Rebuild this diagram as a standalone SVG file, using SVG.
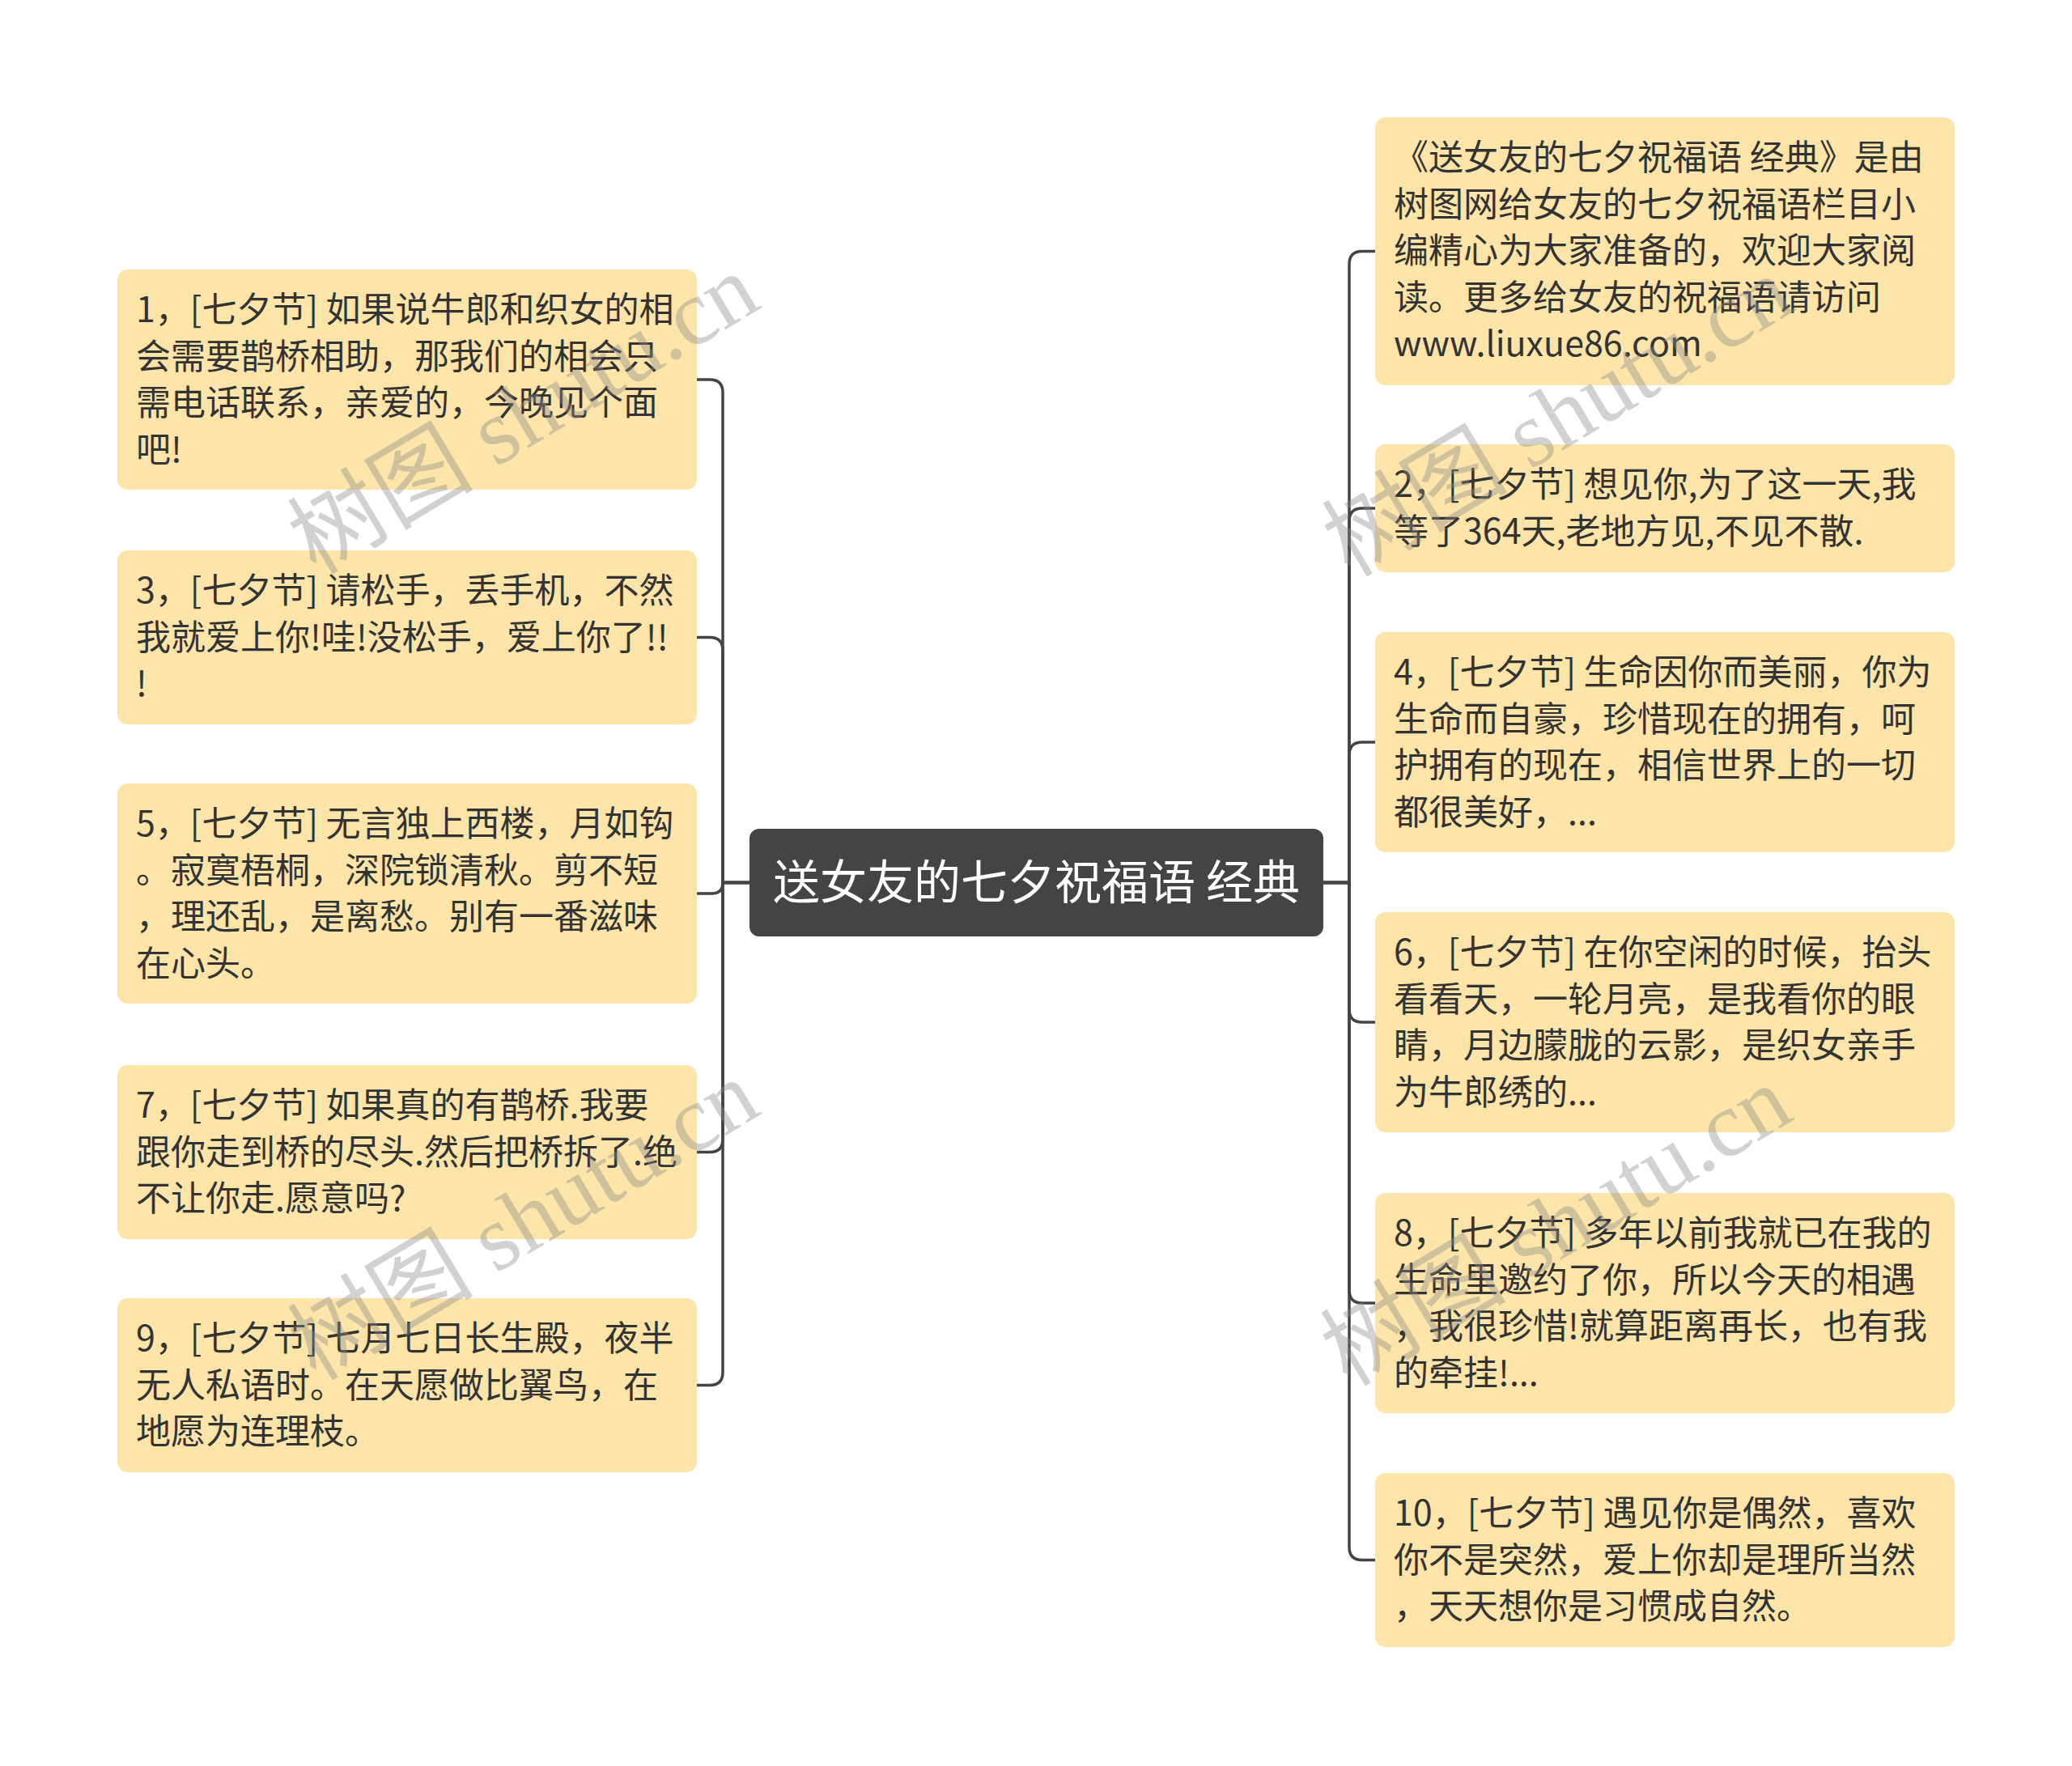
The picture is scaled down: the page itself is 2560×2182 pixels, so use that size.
<svg xmlns="http://www.w3.org/2000/svg" width="2560" height="2182" viewBox="0 0 2560 2182">
<style>
.box{fill:#fde4a9}
.t{font-family:"Noto Sans CJK SC","Noto Sans",sans-serif;font-size:43px;fill:#333333}
.root{fill:#444444}
.rt{font-family:"Noto Sans CJK SC","Noto Sans",sans-serif;font-size:58px;fill:#ffffff}
.c{fill:none;stroke:#444444;stroke-width:3.5}
.wm{font-family:"Liberation Serif","Noto Sans CJK SC",serif;font-size:115px;fill:#8c8c8c;fill-opacity:0.4}
</style>
<rect width="2560" height="2182" fill="#ffffff"/>
<g id="connectors">
<path class="c" d="M926 1090.5 H893 V485 Q893 469 877 469 H861"/>
<path class="c" d="M926 1090.5 H893 V803.5 Q893 787.5 877 787.5 H861"/>
<path class="c" d="M926 1090.5 H893 Q893 1104 879.5 1104 H861"/>
<path class="c" d="M926 1090.5 H893 V1407.5 Q893 1423.5 877 1423.5 H861"/>
<path class="c" d="M926 1090.5 H893 V1695.5 Q893 1711.5 877 1711.5 H861"/>
<path class="c" d="M1635 1090.5 H1667 V326.5 Q1667 310.5 1683 310.5 H1699"/>
<path class="c" d="M1635 1090.5 H1667 V644 Q1667 628 1683 628 H1699"/>
<path class="c" d="M1635 1090.5 H1667 V933 Q1667 917 1683 917 H1699"/>
<path class="c" d="M1635 1090.5 H1667 V1247 Q1667 1263 1683 1263 H1699"/>
<path class="c" d="M1635 1090.5 H1667 V1594 Q1667 1610 1683 1610 H1699"/>
<path class="c" d="M1635 1090.5 H1667 V1911.5 Q1667 1927.5 1683 1927.5 H1699"/>
</g>
<g id="root">
<rect class="root" x="926" y="1024" width="709" height="133" rx="12"/>
<text class="rt" x="1280.5" y="1111" text-anchor="middle">送女友的七夕祝福语 经典</text>
</g>
<g id="n1">
<rect class="box" x="145" y="333" width="716" height="272" rx="13"/>
<text class="t" x="168" y="398"><tspan x="168">1，[七夕节] 如果说牛郎和织女的相</tspan><tspan x="168" dy="57.5">会需要鹊桥相助，那我们的相会只</tspan><tspan x="168" dy="57.5">需电话联系，亲爱的，今晚见个面</tspan><tspan x="168" dy="57.5">吧!</tspan></text>
</g>
<g id="n3">
<rect class="box" x="145" y="680" width="716" height="215" rx="13"/>
<text class="t" x="168" y="745"><tspan x="168">3，[七夕节] 请松手，丢手机，不然</tspan><tspan x="168" dy="57.5">我就爱上你!哇!没松手，爱上你了!!</tspan><tspan x="168" dy="57.5">!</tspan></text>
</g>
<g id="n5">
<rect class="box" x="145" y="968" width="716" height="272" rx="13"/>
<text class="t" x="168" y="1033"><tspan x="168">5，[七夕节] 无言独上西楼，月如钩</tspan><tspan x="168" dy="57.5">。寂寞梧桐，深院锁清秋。剪不短</tspan><tspan x="168" dy="57.5">，理还乱，是离愁。别有一番滋味</tspan><tspan x="168" dy="57.5">在心头。</tspan></text>
</g>
<g id="n7">
<rect class="box" x="145" y="1316" width="716" height="215" rx="13"/>
<text class="t" x="168" y="1381"><tspan x="168">7，[七夕节] 如果真的有鹊桥.我要</tspan><tspan x="168" dy="57.5">跟你走到桥的尽头.然后把桥拆了.绝</tspan><tspan x="168" dy="57.5">不让你走.愿意吗?</tspan></text>
</g>
<g id="n9">
<rect class="box" x="145" y="1604" width="716" height="215" rx="13"/>
<text class="t" x="168" y="1669"><tspan x="168">9，[七夕节] 七月七日长生殿，夜半</tspan><tspan x="168" dy="57.5">无人私语时。在天愿做比翼鸟，在</tspan><tspan x="168" dy="57.5">地愿为连理枝。</tspan></text>
</g>
<g id="n0">
<rect class="box" x="1699" y="145" width="716" height="331" rx="13"/>
<text class="t" x="1722" y="210"><tspan x="1722">《送女友的七夕祝福语 经典》是由</tspan><tspan x="1722" dy="57.5">树图网给女友的七夕祝福语栏目小</tspan><tspan x="1722" dy="57.5">编精心为大家准备的，欢迎大家阅</tspan><tspan x="1722" dy="57.5">读。更多给女友的祝福语请访问</tspan><tspan x="1722" dy="57.5">www.liuxue86.com</tspan></text>
</g>
<g id="n2">
<rect class="box" x="1699" y="549" width="716" height="158" rx="13"/>
<text class="t" x="1722" y="614"><tspan x="1722">2，[七夕节] 想见你,为了这一天,我</tspan><tspan x="1722" dy="57.5">等了364天,老地方见,不见不散.</tspan></text>
</g>
<g id="n4">
<rect class="box" x="1699" y="781" width="716" height="272" rx="13"/>
<text class="t" x="1722" y="846"><tspan x="1722">4，[七夕节] 生命因你而美丽，你为</tspan><tspan x="1722" dy="57.5">生命而自豪，珍惜现在的拥有，呵</tspan><tspan x="1722" dy="57.5">护拥有的现在，相信世界上的一切</tspan><tspan x="1722" dy="57.5">都很美好，...</tspan></text>
</g>
<g id="n6">
<rect class="box" x="1699" y="1127" width="716" height="272" rx="13"/>
<text class="t" x="1722" y="1192"><tspan x="1722">6，[七夕节] 在你空闲的时候，抬头</tspan><tspan x="1722" dy="57.5">看看天，一轮月亮，是我看你的眼</tspan><tspan x="1722" dy="57.5">睛，月边朦胧的云影，是织女亲手</tspan><tspan x="1722" dy="57.5">为牛郎绣的...</tspan></text>
</g>
<g id="n8">
<rect class="box" x="1699" y="1474" width="716" height="272" rx="13"/>
<text class="t" x="1722" y="1539"><tspan x="1722">8，[七夕节] 多年以前我就已在我的</tspan><tspan x="1722" dy="57.5">生命里邀约了你，所以今天的相遇</tspan><tspan x="1722" dy="57.5">，我很珍惜!就算距离再长，也有我</tspan><tspan x="1722" dy="57.5">的牵挂!...</tspan></text>
</g>
<g id="n10">
<rect class="box" x="1699" y="1820" width="716" height="215" rx="13"/>
<text class="t" x="1722" y="1885"><tspan x="1722">10，[七夕节] 遇见你是偶然，喜欢</tspan><tspan x="1722" dy="57.5">你不是突然，爱上你却是理所当然</tspan><tspan x="1722" dy="57.5">，天天想你是习惯成自然。</tspan></text>
</g>
<g id="watermarks">
<text class="wm" transform="translate(647,512) rotate(-31)" text-anchor="middle" dominant-baseline="central">树图 shutu.cn</text>
<text class="wm" transform="translate(647,1508) rotate(-31)" text-anchor="middle" dominant-baseline="central">树图 shutu.cn</text>
<text class="wm" transform="translate(1925,515) rotate(-31)" text-anchor="middle" dominant-baseline="central">树图 shutu.cn</text>
<text class="wm" transform="translate(1923,1515) rotate(-31)" text-anchor="middle" dominant-baseline="central">树图 shutu.cn</text>
</g>
</svg>
